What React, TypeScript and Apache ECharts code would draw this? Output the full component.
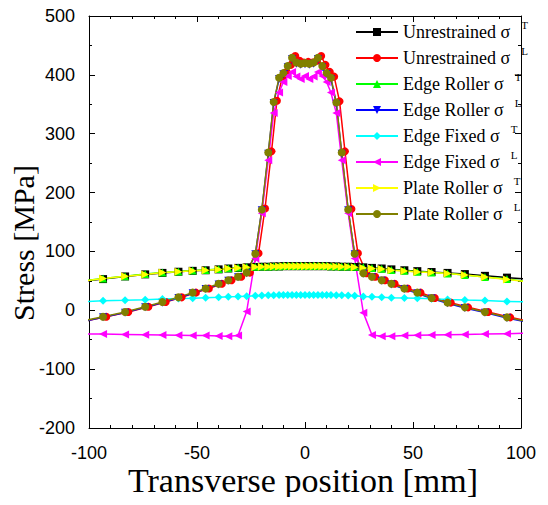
import React, { useEffect, useRef } from "react";
import * as echarts from "echarts";

// Transverse mesh positions [mm] shared by most result sets
const meshX = [
  -104, -93.5, -83.3, -74, -66, -58.6, -52, -46, -40, -35.5, -31, -27, -23, -20, -17, -14.5, -12, -10, -8, -6, -4, -2,
  0, 2, 4, 6, 8, 10, 12, 14.5, 17, 20, 23, 27, 31, 35.5, 40, 46, 52, 58.6, 66, 74, 83.3, 93.5, 104,
];

// The unrestrained model sits slightly offset along the section
const unrestrainedX = [
  -102.5, -92, -81.8, -72.5, -64.5, -57.1, -50.5, -44.5, -38.5, -34, -29.5, -25.5, -21.5, -18.5, -15.5, -13, -10.5,
  -8.5, -6.5, -4.5, -2.5, -0.5, 1.5, 3.5, 5.5, 7.5, 9.5, 11.5, 13.5, 16, 18.5, 21.5, 24.5, 28.5, 32.5, 37, 41.5, 47.5,
  53.5, 60.1, 67.5, 75.5, 84.8, 95, 105.5,
];

// Stresses [MPa]
const unrestrainedT = [
  49, 53, 57.5, 61, 63.5, 65.5, 67, 68, 69.5, 71, 72, 73, 73.5, 74, 74, 74.5, 74.5, 75, 75, 75, 75, 75,
  75, 75, 75, 75, 75, 75, 74.5, 74.5, 74, 74, 73.5, 73, 72, 71, 69.5, 68, 66.5, 65, 63.5, 61.5, 58.5, 55.5, 52.5,
];
const unrestrainedL = [
  -19, -11, -3, 6, 14, 22, 30, 37, 45, 51, 57, 64, 97, 173, 270, 356, 397, 405, 417, 432, 424, 421,
  422, 421, 424, 432, 417, 405, 397, 355, 270, 172, 97, 63, 57, 51, 45, 37, 30, 21, 13, 5, -3, -12, -20,
];
const edgeRollerT = [
  49.5, 54, 58, 61.5, 64, 66, 67.5, 68.5, 70, 71.5, 72.5, 73.5, 74, 74.5, 74.5, 75, 75, 75.5, 75.5, 75.5, 75.5, 75.5,
  75.5, 75.5, 75.5, 75.5, 75.5, 75.5, 75, 75, 74.5, 74.5, 74, 73, 72, 70.5, 68.5, 67, 65.5, 64, 62.5, 60, 56.5, 53, 48.5,
];
const edgeRollerL = [
  -20, -12, -4, 5, 13, 21, 29, 36, 44, 50, 56, 63, 95, 170, 266, 352, 393, 401, 413, 427, 419, 417,
  418, 417, 419, 427, 413, 401, 393, 351, 266, 170, 95, 62, 56, 50, 44, 36, 29, 20, 12, 4, -4, -13, -21,
];
const edgeFixedT = [
  14.5, 16, 17, 18, 19, 20, 20.5, 21.5, 22, 23, 23.5, 24, 24.5, 25, 25.5, 25.5, 26, 26, 26, 26, 26, 26,
  26, 26, 26, 26, 26, 26, 26, 25.5, 25.5, 25, 24.5, 23.5, 23, 22, 21.5, 21, 20.5, 19.5, 18.5, 17.5, 16.5, 15, 14,
];
const edgeFixedL = [
  -40, -40.5, -41, -41.5, -42, -42.5, -43, -43, -43.5, -44, -43, -2, 88, 165, 255, 335, 370, 388, 398, 405, 397, 393,
  398, 393, 397, 405, 398, 388, 370, 335, 255, 165, 88, -4, -42, -44, -44, -43, -42.5, -42, -41.5, -41, -40.5, -39.7, -39,
];
const plateRollerT = [
  49, 54, 58, 61, 64, 65.5, 67, 68, 69.5, 71, 72, 73, 73.5, 74, 74, 74.5, 74.5, 75, 75, 75, 75, 75,
  75, 75, 75, 75, 75, 75, 74.5, 74.5, 74, 74, 73, 72, 71, 70, 68, 66.7, 65, 64, 62.5, 60, 56.5, 52.5, 48,
];
const plateRollerL = [
  -19, -11, -3, 6, 14, 22, 30, 37, 45, 51, 57, 64, 96, 171, 268, 354, 395, 403, 415, 429, 421, 419,
  420, 419, 421, 429, 415, 403, 395, 353, 268, 171, 96, 63, 57, 51, 45, 37, 30, 21, 13, 5, -3, -12, -20,
];

// Legend labels: base text and superscript component
const seriesNames = [
  "Unrestrained σT", "Unrestrained σL", "Edge Roller σT", "Edge Roller σL",
  "Edge Fixed σT", "Edge Fixed σL", "Plate Roller σT", "Plate Roller σL",
];
const legendBase = [
  "Unrestrained σ", "Unrestrained σ", "Edge Roller σ", "Edge Roller σ",
  "Edge Fixed σ", "Edge Fixed σ", "Plate Roller σ", "Plate Roller σ",
];
const legendSup = ["T", "L", "T", "L", "T", "L", "T", "L"];

const xTicks = { min: -100, max: 100, interval: 50 };
const yTicks = { min: -200, max: 500, interval: 100 };

const SERIF = "Liberation Serif";
const SANS = "Liberation Sans";

const seriesStyle = [
  { color: "#000000", symbol: "rect", rotate: 0 },
  { color: "#ff0000", symbol: "circle", rotate: 0 },
  { color: "#00ff00", symbol: "triangle", rotate: 0 },
  { color: "#0000ff", symbol: "triangle", rotate: 180 },
  { color: "#00ffff", symbol: "diamond", rotate: 0 },
  { color: "#ff00ff", symbol: "triangle", rotate: 90 },
  { color: "#ffff00", symbol: "triangle", rotate: -90 },
  { color: "#808000", symbol: "circle", rotate: 0 },
];

const seriesValues = [
  unrestrainedT, unrestrainedL, edgeRollerT, edgeRollerL,
  edgeFixedT, edgeFixedL, plateRollerT, plateRollerL,
];
const seriesX = [meshX, unrestrainedX, meshX, meshX, meshX, meshX, meshX, meshX];

export default function App() {
  const ref = useRef<HTMLDivElement>(null);

  useEffect(() => {
    if (!ref.current) return;
    const chart = echarts.init(ref.current, null, { renderer: "svg" });

    const axisBase = {
      type: "value" as const,
      axisLine: { show: true, onZero: false, lineStyle: { color: "#000", width: 1 } },
      axisTick: { show: true, inside: true, length: 6, lineStyle: { color: "#000" } },
      minorTick: { show: true, length: 3, lineStyle: { color: "#000" } },
      splitLine: { show: false },
      minorSplitLine: { show: false },
    };

    const series = seriesNames.map((name, i) => ({
      name,
      type: "line",
      data: seriesX[i].map((x, k) => [x, seriesValues[i][k]]),
      symbol: seriesStyle[i].symbol,
      symbolRotate: seriesStyle[i].rotate,
      symbolSize: 8,
      showAllSymbol: true,
      clip: true,
      lineStyle: { color: seriesStyle[i].color, width: 1.5 },
      itemStyle: { color: seriesStyle[i].color },
      emphasis: { disabled: true },
    }));

    chart.setOption({
      animation: false,
      backgroundColor: "#ffffff",
      grid: { left: 89, right: 27, top: 16, bottom: 77, containLabel: false },
      xAxis: [
        {
          ...axisBase,
          min: xTicks.min,
          max: xTicks.max,
          interval: xTicks.interval,
          position: "bottom",
          minorTick: { ...axisBase.minorTick, splitNumber: 5 },
          axisLabel: { show: true, margin: 16, fontSize: 18, fontFamily: SANS, color: "#000" },
        },
        {
          ...axisBase,
          min: xTicks.min,
          max: xTicks.max,
          interval: xTicks.interval,
          position: "top",
          minorTick: { ...axisBase.minorTick, splitNumber: 5 },
          axisLabel: { show: false },
        },
      ],
      yAxis: [
        {
          ...axisBase,
          min: yTicks.min,
          max: yTicks.max,
          interval: yTicks.interval,
          position: "left",
          minorTick: { ...axisBase.minorTick, splitNumber: 2 },
          axisLabel: { show: true, margin: 14, fontSize: 18, fontFamily: SANS, color: "#000" },
        },
        {
          ...axisBase,
          min: yTicks.min,
          max: yTicks.max,
          interval: yTicks.interval,
          position: "right",
          minorTick: { ...axisBase.minorTick, splitNumber: 2 },
          axisLabel: { show: false },
        },
      ],
      legend: {
        orient: "vertical",
        left: 350,
        top: 14,
        itemWidth: 42,
        itemHeight: 10,
        itemGap: 0,
        data: seriesNames,
        formatter: (name: string) => {
          const i = seriesNames.indexOf(name);
          return `{a|${legendBase[i]}}{s|${legendSup[i]}}`;
        },
        textStyle: {
          fontSize: 18,
          fontFamily: SERIF,
          color: "#000",
          lineHeight: 26,
          rich: {
            a: { fontSize: 18, fontFamily: SERIF, color: "#000", lineHeight: 26, verticalAlign: "middle" },
            s: { fontSize: 11, fontFamily: SERIF, color: "#000", lineHeight: 10, verticalAlign: "top", padding: [0, 0, 0, 11] },
          },
        },
      },
      graphic: [
        {
          type: "text",
          x: 303,
          y: 480,
          style: {
            text: "Transverse position [mm]",
            fontSize: 34,
            fontFamily: SERIF,
            fill: "#000",
            align: "center",
            verticalAlign: "middle",
          },
        },
        {
          type: "text",
          x: 23,
          y: 243,
          rotation: Math.PI / 2,
          style: {
            text: "Stress [MPa]",
            fontSize: 30,
            fontFamily: SERIF,
            fill: "#000",
            align: "center",
            verticalAlign: "middle",
          },
        },
      ],
      series,
    });

    return () => chart.dispose();
  }, []);

  return <div ref={ref} style={{ width: 548, height: 505, margin: -8 }} />;
}
